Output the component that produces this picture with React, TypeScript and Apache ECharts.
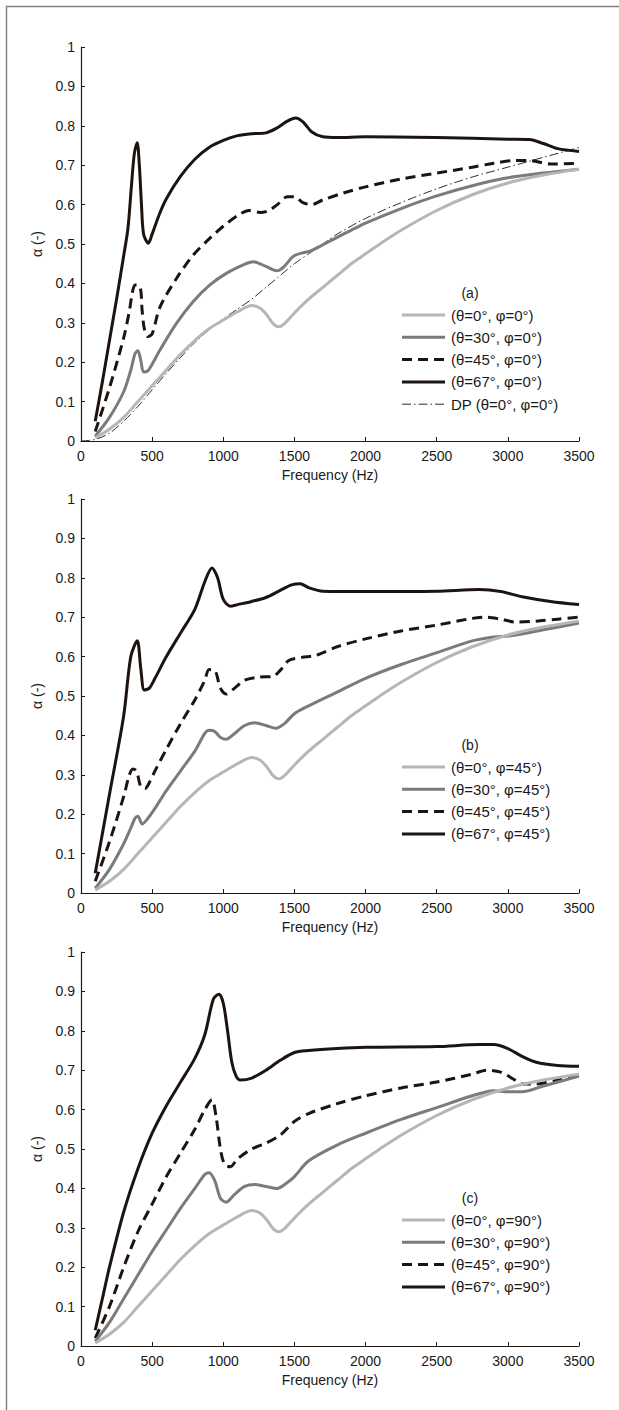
import React, { useEffect, useRef } from "react";
import * as echarts from "echarts";

// ---------- data ----------
const X_TICKS = [0, 500, 1000, 1500, 2000, 2500, 3000, 3500];
const Y_TICKS = [0, 0.1, 0.2, 0.3, 0.4, 0.5, 0.6, 0.7, 0.8, 0.9, 1];

// normal incidence (same in all panels)
const THETA0: [number, number][] = [
  [100, 0.008], [200, 0.03], [300, 0.06], [400, 0.1], [500, 0.14], [600, 0.18], [700, 0.22],
  [800, 0.255], [900, 0.285], [1000, 0.307], [1100, 0.328], [1200, 0.344], [1260, 0.337],
  [1310, 0.318], [1350, 0.298], [1390, 0.29], [1430, 0.298], [1500, 0.325], [1600, 0.36],
  [1700, 0.39], [1800, 0.42], [1900, 0.45], [2000, 0.475], [2100, 0.5], [2250, 0.535],
  [2500, 0.585], [2750, 0.625], [3000, 0.655], [3250, 0.675], [3500, 0.69],
];

const DP_A: [number, number][] = [
  [0, 0], [100, 0.004], [200, 0.02], [300, 0.05], [400, 0.088], [500, 0.13], [600, 0.172],
  [700, 0.212], [800, 0.25], [900, 0.282], [1000, 0.31], [1100, 0.335], [1200, 0.36],
  [1300, 0.39], [1400, 0.42], [1500, 0.45], [1600, 0.475], [1700, 0.5], [1800, 0.525],
  [2000, 0.565], [2250, 0.605], [2500, 0.64], [2750, 0.67], [3000, 0.695], [3250, 0.72],
  [3500, 0.745],
];

const THETA30_A: [number, number][] = [
  [100, 0.012], [200, 0.06], [300, 0.125], [350, 0.18], [380, 0.222], [400, 0.229], [420, 0.205],
  [440, 0.175], [470, 0.178], [500, 0.195], [555, 0.231], [672, 0.299], [789, 0.354], [906, 0.396],
  [1024, 0.426], [1141, 0.447], [1210, 0.455], [1300, 0.443], [1375, 0.432], [1420, 0.44],
  [1490, 0.468], [1550, 0.477], [1610, 0.482], [1700, 0.498], [1800, 0.517], [1900, 0.535],
  [2000, 0.553], [2250, 0.59], [2500, 0.622], [2750, 0.648], [3000, 0.668], [3250, 0.68], [3500, 0.69],
];

const THETA45_A: [number, number][] = [
  [100, 0.024], [200, 0.135], [300, 0.262], [340, 0.33], [360, 0.375], [380, 0.396], [415, 0.392],
  [430, 0.33], [445, 0.285], [470, 0.265], [500, 0.272], [555, 0.34], [672, 0.413], [789, 0.472],
  [906, 0.515], [1000, 0.545], [1100, 0.572], [1180, 0.585], [1260, 0.58], [1320, 0.585],
  [1380, 0.6], [1450, 0.62], [1500, 0.62], [1560, 0.605], [1620, 0.6], [1700, 0.612],
  [1850, 0.63], [2000, 0.645], [2250, 0.665], [2500, 0.68], [2750, 0.695], [2900, 0.705],
  [3050, 0.712], [3150, 0.712], [3300, 0.703], [3500, 0.705],
];

const THETA67_A: [number, number][] = [
  [100, 0.05], [150, 0.15], [200, 0.255], [250, 0.36], [300, 0.47], [330, 0.54], [355, 0.65],
  [375, 0.73], [395, 0.757], [410, 0.7], [425, 0.6], [440, 0.525], [473, 0.502], [500, 0.525],
  [550, 0.575], [600, 0.615], [700, 0.672], [800, 0.715], [900, 0.745], [1000, 0.763],
  [1100, 0.775], [1200, 0.78], [1300, 0.782], [1380, 0.795], [1450, 0.812], [1510, 0.82],
  [1560, 0.81], [1620, 0.785], [1700, 0.772], [1800, 0.77], [2000, 0.772], [2500, 0.77],
  [3000, 0.766], [3150, 0.765], [3250, 0.755], [3350, 0.742], [3500, 0.735],
];

const THETA30_B: [number, number][] = [
  [100, 0.012], [200, 0.06], [300, 0.125], [350, 0.165], [380, 0.19], [400, 0.195], [430, 0.175],
  [460, 0.185], [520, 0.215], [600, 0.26], [700, 0.31], [800, 0.36], [870, 0.405], [900, 0.413],
  [940, 0.41], [980, 0.395], [1020, 0.39], [1080, 0.405], [1150, 0.425], [1220, 0.432],
  [1300, 0.425], [1370, 0.418], [1430, 0.43], [1500, 0.455], [1600, 0.475], [1800, 0.51],
  [2000, 0.545], [2250, 0.58], [2500, 0.61], [2750, 0.64], [2900, 0.65], [3000, 0.652],
  [3250, 0.668], [3500, 0.685],
];

const THETA45_B: [number, number][] = [
  [100, 0.03], [200, 0.13], [300, 0.245], [340, 0.3], [365, 0.315], [390, 0.31], [420, 0.27],
  [450, 0.265], [480, 0.28], [520, 0.31], [600, 0.365], [700, 0.43], [800, 0.49], [870, 0.54],
  [900, 0.567], [940, 0.565], [980, 0.52], [1020, 0.505], [1080, 0.52], [1150, 0.54],
  [1250, 0.548], [1350, 0.55], [1400, 0.565], [1460, 0.59], [1550, 0.598], [1650, 0.603],
  [1800, 0.625], [2000, 0.645], [2250, 0.665], [2500, 0.68], [2750, 0.697], [2850, 0.7],
  [2950, 0.695], [3050, 0.688], [3200, 0.69], [3350, 0.695], [3500, 0.7],
];

const THETA67_B: [number, number][] = [
  [100, 0.05], [200, 0.25], [300, 0.45], [350, 0.6], [395, 0.64], [420, 0.57], [445, 0.515],
  [480, 0.52], [520, 0.545], [600, 0.6], [700, 0.66], [800, 0.72], [870, 0.79], [920, 0.825],
  [960, 0.8], [1000, 0.745], [1050, 0.728], [1100, 0.732], [1200, 0.74], [1300, 0.75],
  [1400, 0.768], [1480, 0.782], [1540, 0.785], [1600, 0.775], [1700, 0.766], [2000, 0.765],
  [2500, 0.766], [2800, 0.77], [2950, 0.765], [3100, 0.752], [3300, 0.74], [3500, 0.732],
];

const THETA30_C: [number, number][] = [
  [100, 0.012], [200, 0.06], [300, 0.12], [400, 0.18], [500, 0.24], [600, 0.295], [700, 0.35],
  [800, 0.4], [870, 0.435], [900, 0.44], [940, 0.42], [980, 0.375], [1020, 0.365], [1080, 0.385],
  [1150, 0.405], [1220, 0.41], [1300, 0.405], [1380, 0.4], [1450, 0.415], [1500, 0.43],
  [1600, 0.47], [1800, 0.51], [2000, 0.54], [2250, 0.575], [2500, 0.605], [2750, 0.635],
  [2900, 0.648], [3000, 0.645], [3100, 0.645], [3250, 0.66], [3500, 0.685],
];

const THETA45_C: [number, number][] = [
  [100, 0.02], [200, 0.1], [300, 0.2], [400, 0.29], [500, 0.36], [600, 0.43], [700, 0.49],
  [800, 0.55], [870, 0.6], [920, 0.625], [950, 0.58], [980, 0.5], [1010, 0.46], [1050, 0.455],
  [1100, 0.475], [1200, 0.5], [1300, 0.515], [1400, 0.535], [1500, 0.57], [1600, 0.59],
  [1800, 0.615], [2000, 0.635], [2250, 0.655], [2500, 0.67], [2750, 0.69], [2850, 0.7],
  [2950, 0.695], [3050, 0.675], [3100, 0.665], [3200, 0.665], [3350, 0.675], [3500, 0.685],
];

const THETA67_C: [number, number][] = [
  [100, 0.04], [150, 0.12], [200, 0.2], [300, 0.34], [400, 0.45], [500, 0.54], [600, 0.61],
  [700, 0.67], [800, 0.73], [870, 0.79], [930, 0.88], [970, 0.893], [1000, 0.87], [1030, 0.8],
  [1060, 0.72], [1090, 0.685], [1120, 0.675], [1200, 0.68], [1300, 0.7], [1400, 0.725],
  [1500, 0.745], [1600, 0.75], [1800, 0.755], [2000, 0.758], [2500, 0.76], [2800, 0.765],
  [2900, 0.765], [3000, 0.755], [3100, 0.735], [3200, 0.72], [3350, 0.712], [3500, 0.71],
];

const PANEL_TAGS = ["(a)", "(b)", "(c)"];
const LEGEND_A = ["(θ=0°, φ=0°)", "(θ=30°, φ=0°)", "(θ=45°, φ=0°)", "(θ=67°, φ=0°)", "DP (θ=0°, φ=0°)"];
const LEGEND_B = ["(θ=0°, φ=45°)", "(θ=30°, φ=45°)", "(θ=45°, φ=45°)", "(θ=67°, φ=45°)"];
const LEGEND_C = ["(θ=0°, φ=90°)", "(θ=30°, φ=90°)", "(θ=45°, φ=90°)", "(θ=67°, φ=90°)"];
const X_NAME = "Frequency (Hz)";
const Y_NAME = "α (-)";

// ---------- styling ----------
const FONT = "'Liberation Sans', Arial, Helvetica, sans-serif";
const AXIS_COLOR = "#231a15";
const C_LIGHT = "#b6b6b6";
const C_MID = "#7b7b7b";
const C_DARK = "#1d1410";
const GRID_LEFT = 81;
const GRID_WIDTH = 498;
const GRID_TOPS = [47, 499, 952];
const GRID_H = 394;

type Style = { color: string; type: any; width: number };
const STYLES: Style[] = [
  { color: C_LIGHT, type: "solid", width: 3 },
  { color: C_MID, type: "solid", width: 3 },
  { color: C_DARK, type: [10, 6], width: 3 },
  { color: C_DARK, type: "solid", width: 3 },
  { color: C_DARK, type: [9, 3, 1.5, 3], width: 0.9 },
];

export default function App() {
  const ref = useRef<HTMLDivElement>(null);
  useEffect(() => {
    if (!ref.current) return;
    const chart = echarts.init(ref.current, undefined, { renderer: "svg" });
    const panels = [
      { series: [THETA0, THETA30_A, THETA45_A, THETA67_A, DP_A], legend: LEGEND_A },
      { series: [THETA0, THETA30_B, THETA45_B, THETA67_B], legend: LEGEND_B },
      { series: [THETA0, THETA30_C, THETA45_C, THETA67_C], legend: LEGEND_C },
    ];
    const grid: any[] = [];
    const xAxis: any[] = [];
    const yAxis: any[] = [];
    const series: any[] = [];
    const graphic: any[] = [];

    graphic.push({
      type: "rect",
      shape: { x: 6.5, y: 6.5, width: 700, height: 1500 },
      style: { fill: "none", stroke: "#7f7f7f", lineWidth: 1.4 },
      silent: true,
    });

    panels.forEach((p, i) => {
      const top = GRID_TOPS[i];
      grid.push({ left: GRID_LEFT, top, width: GRID_WIDTH, height: GRID_H, containLabel: false });
      xAxis.push({
        type: "value",
        gridIndex: i,
        min: X_TICKS[0],
        max: X_TICKS[X_TICKS.length - 1],
        interval: 500,
        axisLine: { show: true, onZero: false, lineStyle: { color: AXIS_COLOR, width: 1.2 } },
        axisTick: { show: true, inside: true, length: 4, lineStyle: { color: AXIS_COLOR, width: 1 } },
        axisLabel: {
          color: "#1a1a1a",
          fontSize: 14,
          fontFamily: FONT,
          margin: 8,
          formatter: (v: number) => String(Math.round(v)),
        },
        splitLine: { show: false },
      });
      yAxis.push({
        type: "value",
        gridIndex: i,
        min: Y_TICKS[0],
        max: Y_TICKS[Y_TICKS.length - 1],
        interval: 0.1,
        axisLine: { show: true, onZero: false, lineStyle: { color: AXIS_COLOR, width: 1.2 } },
        axisTick: { show: true, inside: true, length: 4, lineStyle: { color: AXIS_COLOR, width: 1 } },
        axisLabel: {
          color: "#1a1a1a",
          fontSize: 14,
          fontFamily: FONT,
          margin: 6,
          formatter: (v: number) => {
            const r = Math.round(v * 10) / 10;
            return r === 0 ? "0" : r === 1 ? "1" : r.toFixed(1);
          },
        },
        splitLine: { show: false },
      });
      p.series.forEach((d, k) => {
        const st = STYLES[k];
        series.push({
          type: "line",
          name: p.legend[k],
          xAxisIndex: i,
          yAxisIndex: i,
          data: d,
          showSymbol: false,
          smooth: 0.3,
          z: 10 - k,
          lineStyle: { color: st.color, type: st.type, width: st.width, cap: "butt", join: "round" },
          emphasis: { disabled: true },
        });
      });

      // axis names
      graphic.push({
        type: "text",
        x: GRID_LEFT + GRID_WIDTH / 2,
        y: top + GRID_H + 34,
        style: { text: X_NAME, fontSize: 14, fontFamily: FONT, fill: "#1a1a1a", align: "center", verticalAlign: "middle" },
      });
      graphic.push({
        type: "text",
        x: 37,
        y: top + GRID_H / 2,
        rotation: Math.PI / 2,
        style: { text: Y_NAME, fontSize: 14, fontFamily: FONT, fill: "#1a1a1a", align: "center", verticalAlign: "middle" },
      });

      // legend
      const rows = p.legend.length;
      const rowH = 22.3;
      const firstRowY = top + 268;
      graphic.push({
        type: "text",
        x: 470,
        y: firstRowY - rowH,
        style: { text: PANEL_TAGS[i], fontSize: 14, fontFamily: FONT, fill: "#1a1a1a", align: "center", verticalAlign: "middle" },
      });
      for (let k = 0; k < rows; k++) {
        const y = firstRowY + k * rowH;
        const st = STYLES[k];
        graphic.push({
          type: "line",
          shape: { x1: 402, y1: y, x2: 445, y2: y },
          style: { stroke: st.color, lineWidth: st.width, lineDash: Array.isArray(st.type) ? st.type : null },
        });
        graphic.push({
          type: "text",
          x: 451,
          y,
          style: { text: p.legend[k], fontSize: 15, fontFamily: FONT, fill: "#1a1a1a", align: "left", verticalAlign: "middle" },
        });
      }
    });

    chart.setOption({
      animation: false,
      backgroundColor: "#ffffff",
      grid,
      xAxis,
      yAxis,
      series,
      graphic,
    });
    return () => chart.dispose();
  }, []);
  return (
    <div
      ref={ref}
      style={{ position: "absolute", left: 0, top: 0, width: 619, height: 1410, background: "#fff" }}
    />
  );
}
